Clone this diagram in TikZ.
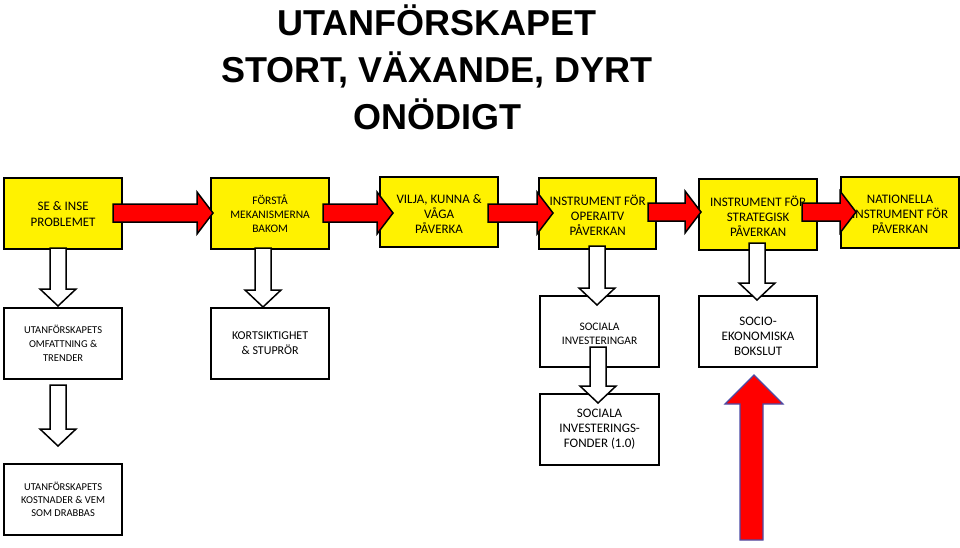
\documentclass[tikz,border=0pt]{standalone}
\usepackage{fontspec}
\setmainfont{Carlito}
\newfontfamily\titlefont{Liberation Sans}
\begin{document}
\begin{tikzpicture}[x=1pt,y=-1pt,
  ybox/.style={draw=black,line width=2.2pt,fill=yellow,align=center,anchor=north west,inner sep=0pt},
  wbox/.style={draw=black,line width=2.2pt,fill=white,align=center,anchor=north west,inner sep=0pt}]
\useasboundingbox (0,0) rectangle (960,547);
\newcommand\harr[3]{\draw[draw=black,line width=1.5pt,fill=red,line join=miter] (#1,#3-9) -- (#2-16,#3-9) -- (#2-16,#3-21) -- (#2,#3) -- (#2-16,#3+21) -- (#2-16,#3+9) -- (#1,#3+9) -- cycle;}
\newcommand\varr[3]{\draw[draw=black,line width=1.5pt,fill=white,line join=miter] (#1-8,#2) -- (#1+8,#2) -- (#1+8,#3-17) -- (#1+18,#3-17) -- (#1,#3) -- (#1-18,#3-17) -- (#1-8,#3-17) -- cycle;}
% title
\node[font=\titlefont\bfseries\fontsize{36}{47}\selectfont,align=center] (title) at (437,67) {UTANFÖRSKAPET\\STORT, VÄXANDE, DYRT\\ONÖDIGT};
% yellow boxes
\node[ybox,minimum width=118,minimum height=71] (b1) at (3,177) {};
\node[font=\fontsize{13}{16}\selectfont,align=center] at (b1.center) {SE \& INSE\\PROBLEMET};
\node[ybox,minimum width=118,minimum height=71] (b2) at (210,177) {};
\node[font=\fontsize{11.5}{14}\selectfont,align=center] at (b2.center) {FÖRSTÅ\\MEKANISMERNA\\BAKOM};
\node[ybox,minimum width=118,minimum height=70] (b3) at (379,176) {};
\node[font=\fontsize{13}{15}\selectfont,align=center] at ([yshift=-2pt]b3.center) {VILJA, KUNNA \&\\VÅGA\\PÅVERKA};
\node[ybox,minimum width=117,minimum height=71] (b4) at (538,177) {};
\node[font=\fontsize{13}{15}\selectfont,align=center] at ([yshift=-2pt]b4.center) {INSTRUMENT FÖR\\OPERAITV\\PÅVERKAN};
\node[ybox,minimum width=118,minimum height=71] (b5) at (698,178) {};
\node[font=\fontsize{13}{15}\selectfont,align=center] at ([yshift=-2pt]b5.center) {INSTRUMENT FÖR\\STRATEGISK\\PÅVERKAN};
\node[ybox,minimum width=118,minimum height=71] (b6) at (840,176) {};
\node[font=\fontsize{13}{15}\selectfont,align=center] at ([yshift=-2pt]b6.center) {NATIONELLA\\INSTRUMENT FÖR\\PÅVERKAN};
% white boxes
\node[wbox,minimum width=118,minimum height=71] (w1) at (3,307) {};
\node[font=\fontsize{10.5}{14}\selectfont,align=center] at (w1.center) {UTANFÖRSKAPETS\\OMFATTNING \&\\TRENDER};
\node[wbox,minimum width=118,minimum height=71] (w2) at (210,307) {};
\node[font=\fontsize{12}{15}\selectfont,align=center] at (w2.center) {KORTSIKTIGHET\\\& STUPRÖR};
\node[wbox,minimum width=119,minimum height=71] (w3) at (539,295) {};
\node[font=\fontsize{11.5}{14}\selectfont,align=center] at ([yshift=-2pt]w3.center) {SOCIALA\\INVESTERINGAR};
\node[wbox,minimum width=118,minimum height=71] (w4) at (698,295) {};
\node[font=\fontsize{13}{15}\selectfont,align=center] at ([yshift=-5pt]w4.center) {SOCIO-\\EKONOMISKA\\BOKSLUT};
\node[wbox,minimum width=119,minimum height=71] (w5) at (539,393) {};
\node[font=\fontsize{13}{15}\selectfont,align=center] at (w5.center) {SOCIALA\\INVESTERINGS-\\FONDER (1.0)};
\node[wbox,minimum width=118,minimum height=71] (w6) at (3,463) {};
\node[font=\fontsize{10.5}{13}\selectfont,align=center] at (w6.center) {UTANFÖRSKAPETS\\KOSTNADER \& VEM\\SOM DRABBAS};
% red arrows
\harr{113}{213}{213}
\harr{323}{393}{213}
\harr{488}{553}{213}
\harr{648}{701}{212}
\harr{802}{856}{212}
% white arrows
\varr{58}{248}{306}
\varr{58}{385}{446}
\varr{263}{248}{307}
\varr{597}{246}{305}
\varr{598}{347}{403}
\varr{757}{243}{300}
% big red up arrow
\draw[draw=blue!50!black!70,line width=1.2pt,fill=red,line join=miter] (740,540) -- (740,404) -- (725,404) -- (754,375) -- (783,404) -- (763,404) -- (763,540) -- cycle;
\end{tikzpicture}
\end{document}
